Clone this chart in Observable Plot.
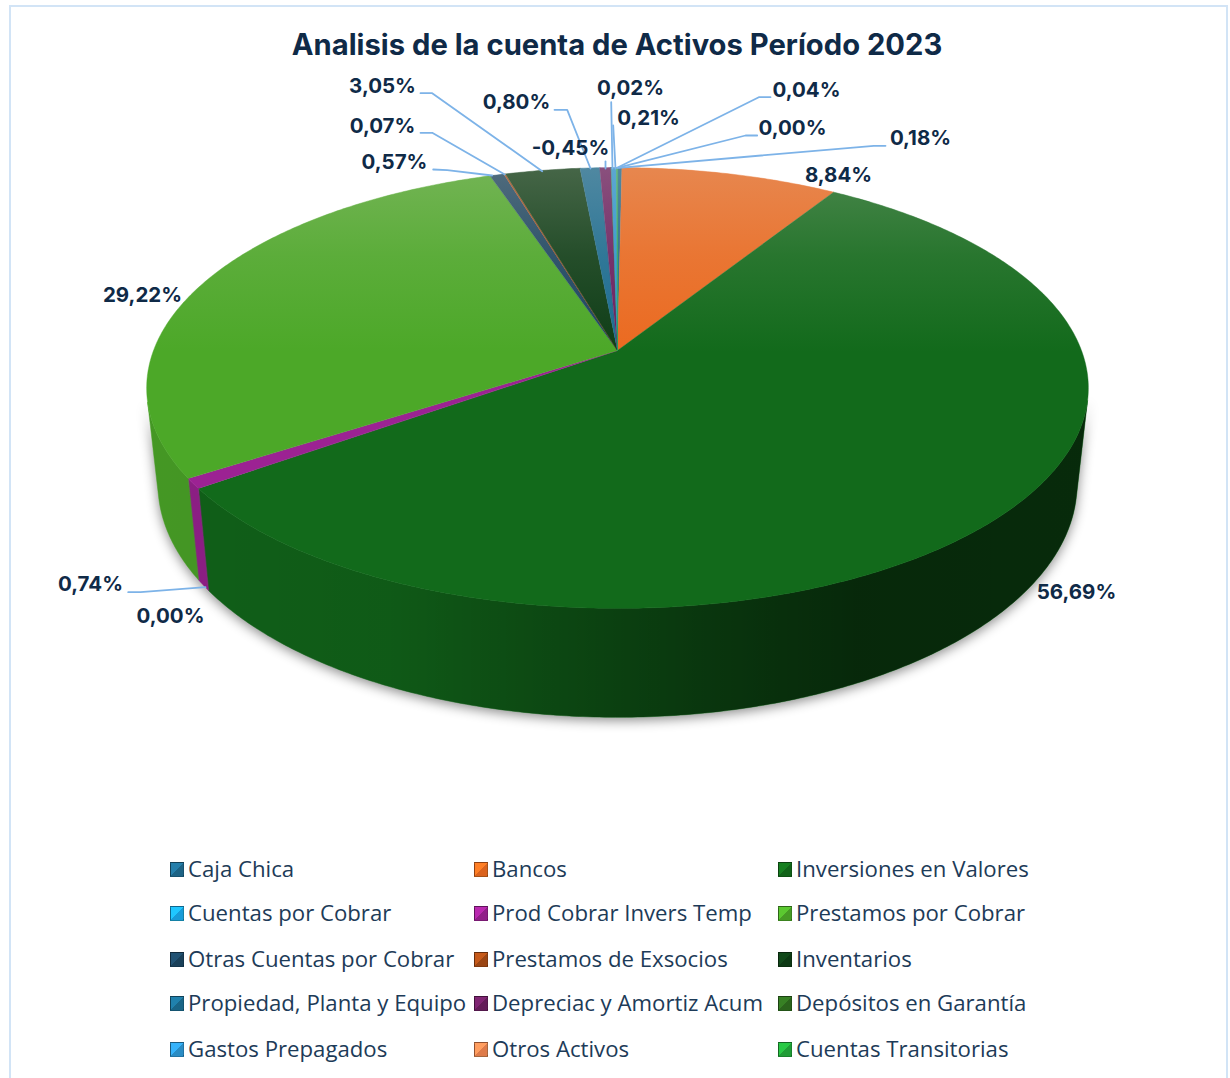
<!DOCTYPE html>
<html lang="es">
<head>
<meta charset="utf-8">
<script src="https://cdn.jsdelivr.net/npm/d3@7"></script>
<script src="https://cdn.jsdelivr.net/npm/@observablehq/plot@0.6"></script>
<style>
  html,body{margin:0;padding:0;background:#fff;}
  body{width:1230px;height:1078px;position:relative;overflow:hidden;font-family:"Open Sans",sans-serif;}
  #frame{position:absolute;left:9px;top:5px;width:1215px;height:1090px;border:2px solid #d2e4f6;box-sizing:content-box;}
  #title{position:absolute;left:0;width:1234px;top:24px;text-align:center;font:700 29.2px "Inter",sans-serif;color:#0f2a47;line-height:42px;white-space:nowrap;}
  #plot{position:absolute;left:0;top:70px;}
  #plot svg{display:block;}
  #legend .item{position:absolute;white-space:nowrap;color:#1d3b58;font:400 22.2px/30px "Open Sans",sans-serif;}
  #legend .sw{position:absolute;width:14px;height:15px;box-sizing:border-box;border:1px solid rgba(0,0,0,.35);}
</style>
</head>
<body>
<div id="frame"></div>
<div id="title"></div>
<div id="plot"></div>
<div id="legend"></div>
<script>
// ---- chart data ----
const chartTitle = "Analisis de la cuenta de Activos Período 2023";
const categories = ["Caja Chica","Bancos","Inversiones en Valores","Cuentas por Cobrar","Prod Cobrar Invers Temp","Prestamos por Cobrar","Otras Cuentas por Cobrar","Prestamos de Exsocios","Inventarios","Propiedad, Planta y Equipo","Depreciac y Amortiz Acum","Depósitos en Garantía","Gastos Prepagados","Otros Activos","Cuentas Transitorias"];
const percents = [0.18,8.84,56.69,0.00,0.74,29.22,0.57,0.07,3.05,0.80,-0.45,0.02,0.21,0.00,0.04];
const sliceColors = ["#1f6a8f","#eb6a20","#126a1b","#1aa6e8","#9c2293","#4ca828","#1c4560","#a64b16","#0e3d16","#1b6c91","#6b1f60","#2e6b1e","#2d96d2","#ee8450","#22a83a"];
const legendOrder = [0,1,2,3,4,5,6,7,8,9,10,11,12,13,14];

// ---- layout (page pixels), kept apart from the values ----
const labelAnchors = [[920,138],[838,175],[1076,592],[170,616],[90,584],[142,295],[394,162],[382,126],[382,86],[516,102],[570,148],[630,88],[648,118],[792,128],[806,90]];
const leaders = [
  [[885,145.3],[873.3,145.3],[618.3,167.3]],
  [[127.7,591.7],[140,591.7],[205,586.7]],
  [[432.7,169],[446.7,169.7],[491.7,175]],
  [[420,132.3],[431.7,132.3],[504.3,174]],
  [[420,92.7],[431.7,92.7],[541.7,170.7]],
  [[554,109.3],[566.7,109.3],[590,168]],
  [[605,161],[605,168]],
  [[610.7,101.7],[612,168]],
  [[612.7,125],[615,168]],
  [[756.7,135],[745,135],[616.7,167.3]],
  [[770,96.7],[758.3,96.7],[616.7,167.3]]
];
const legendCols = [170,474,778], legendRows = [867,911,957,1001,1047];
const W = 1230, TOP = 70, H = 770;

// ---- pie projection: a tilted disc seen in perspective ----
const cx = 617, cy = 350, k = 0.17, a = 464, b = 214;
const shrink = 0.976;
const proj = t => { const X = Math.sin(t), Y = Math.cos(t), w = 1 + k*Y; return [cx + a*X/w, cy - b*Y/w]; };
const lower = ([x,y]) => [cx + (x-cx)*shrink, y + 102 + (y-488)*0.058];
const total = d3.sum(percents, Math.abs);
const slices = []; { let c = 0; percents.forEach((p,i) => { const s = c; c += Math.abs(p); slices.push({i, a0: s/total*2*Math.PI, a1: c/total*2*Math.PI}); }); }
const arc = (a0,a1) => { const n = Math.max(2, Math.ceil((a1-a0)/0.01)); return d3.range(n+1).map(j => proj(a0+(a1-a0)*j/n)); };

const topPts = [], wallPts = [], disc = [];
slices.forEach(s => {
  if (s.a1 <= s.a0) return;
  const col = sliceColors[s.i];
  const pts = arc(s.a0, s.a1);
  [[cx,cy],...pts].forEach(p => topPts.push({key:s.i, x:p[0], y:p[1], color:col}));
  // keep only the part of the rim that faces the viewer, so each wall is a simple polygon
  const front = pts.filter((p,j) => {
    const q = pts[j+1] || p, r = pts[j-1] || p, l = lower(p);
    const dx = q[0]-r[0], dy = q[1]-r[1];
    return dx*(l[1]-p[1]) - dy*(l[0]-p[0]) < 0;
  });
  if (front.length > 1)
    [...front, ...front.map(lower).reverse()].forEach(p => wallPts.push({key:s.i, x:p[0], y:p[1], color:col}));
});
arc(0,2*Math.PI).forEach(p => disc.push({x:p[0], y:p[1]}));
const xS = {domain:[0,W], range:[0,W]}, yS = {domain:[TOP,TOP+H], range:[0,H]};

const labelRows = percents.map((p,i) => ({
  x: labelAnchors[i][0], y: labelAnchors[i][1],
  text: p.toFixed(2).replace(".",",")+"%"
}));
const leaderRows = leaders.flatMap((l,i) => l.map(p => ({key:i, x:p[0], y:p[1]})));

const chart = Plot.plot({
  width:W, height:H, margin:0, marginTop:0, marginBottom:0, marginLeft:0, marginRight:0,
  x:{...xS, axis:null}, y:{...yS, axis:null}, color:{type:"identity"},
  style:{background:"transparent", overflow:"visible"},
  marks:[
    Plot.line(wallPts, {x:"x", y:"y", z:"key", fill:"color", stroke:"color", strokeWidth:0.5, curve:"linear-closed", imageFilter:"drop-shadow(0px 3px 6px rgba(0,0,0,.45))"}),
    Plot.line(wallPts, {x:"x", y:"y", z:"key", fill:"url(#wallShade)", stroke:"none", curve:"linear-closed"}),
    Plot.line(topPts, {x:"x", y:"y", z:"key", fill:"color", stroke:"color", strokeWidth:0.4, curve:"linear-closed"}),
    Plot.line(disc, {x:"x", y:"y", fill:"url(#gloss)", stroke:"none", curve:"linear-closed"}),
    Plot.line(leaderRows, {x:"x", y:"y", z:"key", stroke:"#7db3e8", strokeWidth:1.8, curve:"linear"}),
    Plot.text(labelRows, {x:"x", y:"y", text:"text", fontFamily:"Inter", fontWeight:700, fontSize:20.5, fill:"#0f2a47", textAnchor:"middle"})
  ]
});
document.getElementById("plot").appendChild(chart);

// gradients used by the marks above
const defs = d3.select(chart).insert("defs", ":first-child");
const gloss = defs.append("linearGradient").attr("id","gloss").attr("x1",0).attr("y1",0).attr("x2",0).attr("y2",1);
[[0,.27],[.2,.11],[.42,0.0],[1,0]].forEach(([o,v]) => gloss.append("stop").attr("offset",o).attr("stop-color","#dcd4cc").attr("stop-opacity",v));
const shade = defs.append("linearGradient").attr("id","wallShade").attr("gradientUnits","userSpaceOnUse").attr("x1",150).attr("y1",0).attr("x2",1090).attr("y2",0);
[[0,.1],[.25,.15],[.45,.35],[.6,.5],[.75,.62],[1,.6]].forEach(([o,v]) => shade.append("stop").attr("offset",o).attr("stop-color","#000").attr("stop-opacity",v));

// title + legend
document.getElementById("title").textContent = chartTitle;
const lg = d3.select("#legend");
legendOrder.forEach((idx,n) => {
  const col = legendCols[n%3], row = legendRows[Math.floor(n/3)];
  const c = sliceColors[idx];
  lg.append("div").attr("class","sw").style("left",col+"px").style("top",(row-5)+"px")
    .style("background",`linear-gradient(135deg, ${d3.color(c).brighter(.5)} 50%, ${d3.color(c).darker(.2)} 50%)`);
  lg.append("div").attr("class","item").style("left",(col+18)+"px").style("top",(row-13.5)+"px").text(categories[idx]);
});
</script>
</body>
</html>
